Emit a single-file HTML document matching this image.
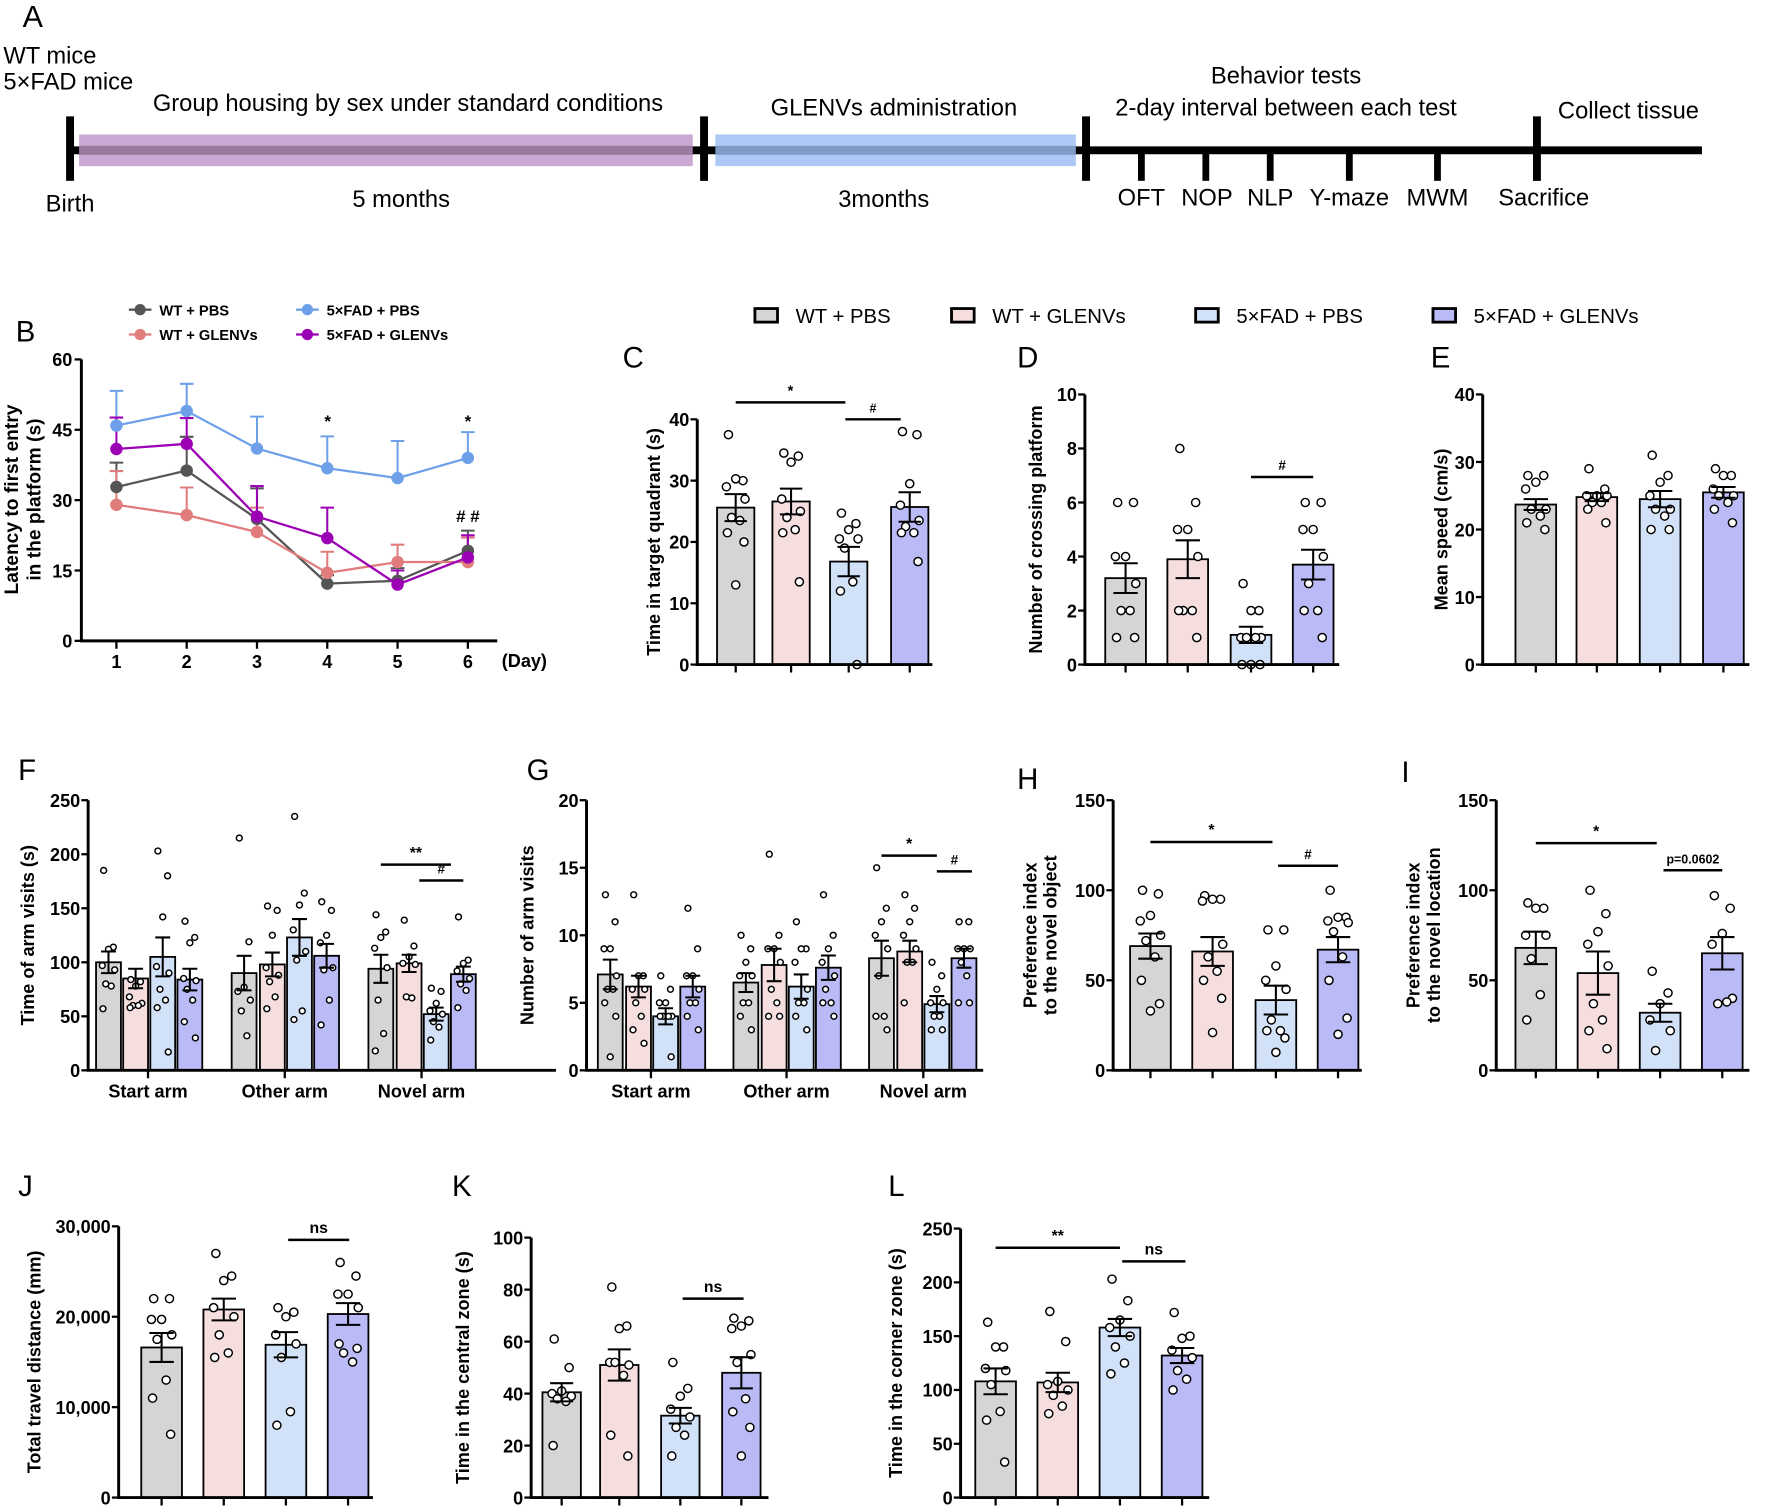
<!DOCTYPE html>
<html><head><meta charset="utf-8"><style>
html,body{margin:0;padding:0;background:#fff;}
svg{display:block;}
text{font-family:"Liberation Sans",Arial,sans-serif;}
.n{font-family:"Liberation Sans Narrow","Liberation Sans",sans-serif;}
</style></head><body>
<svg id="fig" width="1772" height="1510" viewBox="0 0 1568 1336" preserveAspectRatio="none" xmlns="http://www.w3.org/2000/svg"></svg>
<script>
// ---------- data ----------
const groups = ["WT + PBS","WT + GLENVs","5×FAD + PBS","5×FAD + GLENVs"];
const days = [1,2,3,4,5,6];
const bWtPbs = [32.8,36.3,26,12.2,12.8,19.2];
const bWtPbsErr = [38,43.5,32.5,14,15.5,23.5];
const bWtGl = [29,26.8,23.2,14.5,16.8,16.8];
const bWtGlErr = [36.2,32.7,28.4,19,20.5,22];
const bFadPbs = [45.9,49,41,36.8,34.7,39];
const bFadPbsErr = [53.3,54.8,47.8,43.6,42.6,44.5];
const bFadGl = [40.9,42,26.5,21.9,12,17.8];
const bFadGlErr = [47.6,47.5,33,28.4,15,22.5];
const bTicks = [0,15,30,45,60];

const cMeans = [25.6,26.6,16.8,25.7];
const cSems = [2.2,2.1,2.4,2.4];
const cPts = [[37.5,30,30.3,29,27,24,23.5,21.5,20,13],[34.5,34,33,27,25,24,22,21.5,13.5],[24.7,23,22,20.5,20.5,19,13.5,12,0],[38,37.5,29.5,26,23.5,22.5,21.5,21.5,16.8]];
const cTicks = [0,10,20,30,40];

const dMeans = [3.2,3.9,1.1,3.7];
const dSems = [0.55,0.7,0.3,0.55];
const dPts = [[6,6,4,4,3,2,2,1,1],[8,6,5,5,4,2,2,2,1],[3,2,2,1,1,1,1,0,0,0],[6,6,5,5,4,3,2,2,1]];
const dTicks = [0,2,4,6,8,10];

const eMeans = [23.7,24.8,24.5,25.5];
const eSems = [0.8,0.6,1.2,0.8];
const ePts = [[28,28,27,26,23,23,22,21,20],[29,26,25,25,25,24,24,23,21],[31,28,27,25,23,23,22,20,20],[29,28,28,26,25,25,24,23,21]];
const eTicks = [0,10,20,30,40];

const armCats = ["Start arm","Other arm","Novel arm"];
const fMeans = [100,85,105,84, 90,98,123,106, 94,99,52,89];
const fSems = [10,9,18,10, 16,11,17,11, 13,8,6,7];
const fPts = [[185,114,112,97,93,80,78,57],[84,82,78,68,62,60,60,58],[203,180,142,96,90,75,65,58,17],[138,123,118,85,83,75,65,45,30],
 [215,119,77,73,65,55,32],[152,148,125,95,88,82,68,57],[235,164,153,130,110,102,55,47],[156,148,125,118,95,93,65,42],
 [144,128,123,113,95,65,34,18],[139,115,105,99,98,68,67],[76,73,62,55,52,45,40,28],[142,102,99,92,85,80,74,58]];
const fTicks = [0,50,100,150,200,250];

const gMeans = [7.1,6.2,4,6.2, 6.5,7.8,6.2,7.6, 8.3,8.8,4.9,8.3];
const gSems = [1.1,0.8,0.6,0.8, 0.7,1.2,0.9,0.9, 1.3,0.8,0.6,0.7];
const gPts = [[13,11,9,9,7,6,6,5,4,1],[13,7,7,6,6,5,4,3,2],[7,6,5,5,4,4,4,4,1],[12,9,7,7,6,5,5,4,3],
 [10,9,8,7,7,5,5,4,3],[16,10,9,9,8,6,5,4,4],[11,9,9,8,6,5,5,4,3],[13,10,9,8,7,6,5,5,4],
 [15,12,11,10,9,7,4,4,3],[13,12,11,10,9,8,8,5],[8,7,6,5,5,4,4,3,3],[11,11,9,9,9,8,7,5,5]];
const gTicks = [0,5,10,15,20];

const hMeans = [69,66,39,67];
const hSems = [7,8,8,7];
const hPts = [[100,98,86,83,75,72,63,50,37,33],[97,95,95,94,70,63,55,50,40,21],[78,78,58,50,45,28,22,22,18,10],[100,85,85,83,82,77,63,50,29,20]];
const hTicks = [0,50,100,150];

const iMeans = [68,54,32,65];
const iSems = [9,12,5,9];
const iPts = [[93,90,90,75,75,62,42,28],[100,87,77,70,58,37,28,22,12],[55,43,37,28,22,11],[97,90,76,70,40,37,38]];
const iTicks = [0,50,100,150];

const jMeans = [16600,20800,16900,20300];
const jSems = [1600,1200,1400,1200];
const jPts = [[22000,22000,19700,19700,18000,17500,13000,11000,7000],[27000,24500,24000,21000,20000,18000,16000,15500],[21000,20500,20000,18000,17000,15500,9500,8000],[26000,24500,22500,22500,21000,16000,15000,17000,16500]];
const jTicks = [0,10000,20000,30000];

const kMeans = [40.5,51,31.5,48];
const kSems = [3.5,6,3,6];
const kPts = [[61,50,41,40,39,38,37,20],[81,66,65,52,51,52,47,24,16],[52,42,39,34,31,27,24,16],[69,68,66,65,55,52,38,33,27,16]];
const kTicks = [0,20,40,60,80,100];

const lMeans = [108,107,158,132];
const lSems = [12,9,8,7];
const lPts = [[163,140,140,120,118,105,80,72,33],[173,145,108,105,100,95,85,78],[203,183,165,158,150,140,125,115],[172,150,148,137,130,118,110,100]];
const lTicks = [0,50,100,150,200,250];

// ---------- helpers ----------
const NS = "http://www.w3.org/2000/svg";
const svg = document.getElementById('fig');
const barFill = ["#d5d5d5","#f6dede","#d0e1f8","#babaf6"];
function mk(tag, attrs, parent, txt){
  const e = document.createElementNS(NS, tag);
  for (const k in attrs) e.setAttribute(k, attrs[k]);
  if (txt !== undefined) e.textContent = txt;
  (parent || svg).appendChild(e);
  return e;
}
function label(x,y,t,name,size){
  const e = mk('text',{x:x,y:y,'font-size':size||26,fill:'#000'},svg,t);
  
  
}
function sig(x1,x2,y,t,name,size){
  const g = mk('g',{});
  
  
  mk('line',{x1:x1,x2:x2,y1:y,y2:y,stroke:'#000','stroke-width':2.2},g);
  mk('text',{x:(x1+x2)/2,y:y-6,'text-anchor':'middle','font-size':size||14,'font-weight':'bold'},g,t);
}
const jit = [-7,7,0,-9,9,-4,4,-8,8,0];

function barChart(c){
  const g = mk('g',{});
  
  
  const sy = v => c.y0 - v / c.max * (c.y0 - c.yTop);
  c.means.forEach((m,i)=>{
    const cx = c.centers[i], w = c.w;
    const r = mk('rect',{x:cx-w/2,y:sy(m),width:w,height:c.y0-sy(m),fill:barFill[i%4],stroke:'#000','stroke-width':1.6},g);
    
    
  });
  c.pts.forEach((arr,i)=>{
    arr.forEach((v,k)=>{
      const p = mk('circle',{cx:c.centers[i]+jit[k%10]*c.w/36,cy:sy(v),r:c.pr||3.6,fill:'#fff',stroke:'#000','stroke-width':1.3},g);
      
      
    });
  });
  c.means.forEach((m,i)=>{
    const cx = c.centers[i], s = c.sems[i], hw = c.w*0.3;
    const e = mk('path',{d:`M${cx} ${sy(m-s)}V${sy(m+s)}M${cx-hw} ${sy(m+s)}H${cx+hw}M${cx-hw} ${sy(m-s)}H${cx+hw}`,stroke:'#000','stroke-width':1.8,fill:'none'},g);
    
    
  });
  const ax = mk('path',{d:`M${c.ax} ${c.yTop}V${c.y0}H${c.xEnd}`,stroke:'#000','stroke-width':2.6,fill:'none'},g);
  
  
  c.ticks.forEach(t=>{
    mk('line',{x1:c.ax-6,x2:c.ax,y1:sy(t),y2:sy(t),stroke:'#000','stroke-width':2},g);
    const tl = mk('text',{x:c.ax-7,y:sy(t)+6,'text-anchor':'end','font-size':16,'font-weight':'bold',class:'n'},g,c.fmt?c.fmt(t):t);
    
    
  });
  (c.xticks||c.centers).forEach(x=>{
    mk('line',{x1:x,x2:x,y1:c.y0,y2:c.y0+7,stroke:'#000','stroke-width':2},g);
  });
  if (c.cats) c.cats.forEach((t,i)=>{
    const xl = mk('text',{x:c.catX[i],y:c.y0+24,'text-anchor':'middle','font-size':16,'font-weight':'bold'},g,t);
    
    
  });
  c.title.forEach((t,k)=>{
    const yt = mk('text',{transform:`translate(${c.titleX + k*18},${(c.y0+c.yTop)/2}) rotate(-90)`,'text-anchor':'middle','font-size':16,'font-weight':'bold'},g,t);
    
    
  });
  return sy;
}

// ---------- Panel A ----------
(function(){
  const g = mk('g',{});
  
  
  mk('rect',{x:70,y:119,width:543,height:28,fill:'#c9a9d4'},g);
  mk('rect',{x:633,y:119,width:319,height:28,fill:'#adc8f5'},g);
  mk('line',{x1:62,x2:1506,y1:133,y2:133,stroke:'#000','stroke-width':7},g);
  mk('rect',{x:70,y:129,width:543,height:8,fill:'#9a7a9f'},g);
  mk('rect',{x:633,y:129,width:319,height:8,fill:'#7f9cc6'},g);
  [62,623,961,1360].forEach(x=>mk('line',{x1:x,x2:x,y1:103,y2:160,stroke:'#000','stroke-width':7},g));
  [1010,1067,1124,1194,1272].forEach(x=>mk('line',{x1:x,x2:x,y1:133,y2:160,stroke:'#000','stroke-width':6},g));
  const T = (x,y,t,a)=>{const e=mk('text',{x:x,y:y,'font-size':21,class:'n','text-anchor':a||'start'},g,t);  };
  T(3,56,'WT mice'); T(3,79,'5×FAD mice');
  T(361,98,'Group housing by sex under standard conditions','middle');
  T(791,102,'GLENVs administration','middle');
  T(1138,74,'Behavior tests','middle');
  T(1138,102,'2-day interval between each test','middle');
  T(1441,105,'Collect tissue','middle');
  T(62,187,'Birth','middle'); T(355,183,'5 months','middle'); T(782,183,'3months','middle');
  T(1010,182,'OFT','middle'); T(1068,182,'NOP','middle'); T(1124,182,'NLP','middle'); T(1194,182,'Y-maze','middle'); T(1272,182,'MWM','middle'); T(1366,182,'Sacrifice','middle');
})();
label(20,24,'A','panel-label-a',27);

// ---------- Panel B ----------
(function(){
  const g = mk('g',{});
  
  
  const y0=567, yT=318, sy=v=>y0-v/60*(y0-yT), sx=d=>103+(d-1)*62.2;
  const series=[[bWtPbs,bWtPbsErr,'#555555'],[bWtGl,bWtGlErr,'#e07c7c'],[bFadPbs,bFadPbsErr,'#6ea0ea'],[bFadGl,bFadGlErr,'#9c00b4']];
  const names=['wt-pbs','wt-glenvs','5xfad-pbs','5xfad-glenvs'];
  series.forEach((s,si)=>{
    s[0].forEach((v,i)=>{
      const e=mk('path',{d:`M${sx(days[i])} ${sy(v)}V${sy(s[1][i])}M${sx(days[i])-6} ${sy(s[1][i])}H${sx(days[i])+6}`,stroke:s[2],'stroke-width':1.8,fill:'none'},g);
      
      
    });
  });
  series.forEach((s,si)=>{
    const l=mk('polyline',{points:s[0].map((v,i)=>sx(days[i])+','+sy(v)).join(' '),fill:'none',stroke:s[2],'stroke-width':2},g);
    
    
    s[0].forEach((v,i)=>{
      const p=mk('circle',{cx:sx(days[i]),cy:sy(v),r:5.5,fill:s[2]},g);
      
      
    });
  });
  mk('path',{d:`M72 ${yT}V${y0}H440`,stroke:'#000','stroke-width':2.6,fill:'none'},g);
  bTicks.forEach(t=>{mk('line',{x1:66,x2:72,y1:sy(t),y2:sy(t),stroke:'#000','stroke-width':2},g);
    const e=mk('text',{x:64,y:sy(t)+6,'text-anchor':'end','font-size':16,'font-weight':'bold'},g,t);  });
  days.forEach(d=>{mk('line',{x1:sx(d),x2:sx(d),y1:y0,y2:y0+7,stroke:'#000','stroke-width':2},g);
    const e=mk('text',{x:sx(d),y:y0+24,'text-anchor':'middle','font-size':16,'font-weight':'bold'},g,d);  });
  const dl=mk('text',{x:444,y:y0+23,'font-size':16,'font-weight':'bold'},g,'(Day)');  
  const t1=mk('text',{transform:'translate(16,442) rotate(-90)','text-anchor':'middle','font-size':17,'font-weight':'bold'},g,'Latency to first entry');  
  const t2=mk('text',{transform:'translate(36,442) rotate(-90)','text-anchor':'middle','font-size':17,'font-weight':'bold'},g,'in the platform (s)');  
  [[290,378,'*'],[414,378,'*'],[414,462,'# #']].forEach(a=>{const e=mk('text',{x:a[0],y:a[1],'text-anchor':'middle','font-size':15,'font-weight':'bold'},g,a[2]);  });
  const leg=[[124,274,'#555555','WT + PBS'],[124,296,'#e07c7c','WT + GLENVs'],[272,274,'#6ea0ea','5×FAD + PBS'],[272,296,'#9c00b4','5×FAD + GLENVs']];
  leg.forEach(a=>{const lg=mk('g',{},g);  
    mk('line',{x1:a[0]-10,x2:a[0]+10,y1:a[1],y2:a[1],stroke:a[2],'stroke-width':2},lg);
    mk('circle',{cx:a[0],cy:a[1],r:5,fill:a[2]},lg);
    mk('text',{x:a[0]+17,y:a[1]+5,'font-size':13,'font-weight':'bold'},lg,a[3]);});
})();
label(14,302,'B','panel-label-b',26);

// ---------- bar legend ----------
(function(){
  const xs=[668,842,1058,1268];
  xs.forEach((x,i)=>{const lg=mk('g',{});  
    mk('rect',{x:x,y:273,width:20,height:12,fill:barFill[i],stroke:'#000','stroke-width':2.5},lg);
    mk('text',{x:x+36,y:286,'font-size':18,class:'n'},lg,groups[i]);});
})();

// ---------- C, D, E ----------
label(551,325,'C','panel-label-c',26);
label(900,325,'D','panel-label-d',26);
label(1266,325,'E','panel-label-e',26);
barChart({name:'bar-chart-c',ax:617,y0:588,yTop:371,max:40,ticks:cTicks,centers:[651,700,751,805],w:33,xEnd:825,means:cMeans,sems:cSems,pts:cPts,title:['Time in target quadrant (s)'],titleX:584});
sig(651,748,356,'*','sig-c-1',13); sig(748,797,371,'#','sig-c-2',11);
barChart({name:'bar-chart-d',ax:960,y0:588,yTop:349,max:10,ticks:dTicks,centers:[996,1051,1107,1162],w:36,xEnd:1185,means:dMeans,sems:dSems,pts:dPts,title:['Number of crossing platform'],titleX:922});
sig(1107,1162,422,'#','sig-d',12);
barChart({name:'bar-chart-e',ax:1312,y0:588,yTop:349,max:40,ticks:eTicks,centers:[1359,1413,1469,1525],w:36,xEnd:1548,means:eMeans,sems:eSems,pts:ePts,title:['Mean speed (cm/s)'],titleX:1281});

// ---------- F, G ----------
label(16,690,'F','panel-label-f',26);
label(466,690,'G','panel-label-g',26);
barChart({name:'bar-chart-f',ax:78,y0:947,yTop:708,max:250,ticks:fTicks,centers:[96,120,144,168,216,241,265,289,337,362,386,410],w:22,pr:2.6,xEnd:492,xticks:[131,252,373],cats:armCats,catX:[131,252,373],means:fMeans,sems:fSems,pts:fPts,title:['Time of arm visits (s)'],titleX:30});
sig(337,399,765,'**','sig-f-1',14); sig(371,410,779,'#','sig-f-2',12);
barChart({name:'bar-chart-g',ax:519,y0:947,yTop:708,max:20,ticks:gTicks,centers:[540,565,589,613,660,685,709,733,780,805,829,853],w:22,pr:2.6,xEnd:870,xticks:[576,696,817],cats:armCats,catX:[576,696,817],means:gMeans,sems:gSems,pts:gPts,title:['Number of arm visits'],titleX:472});
sig(780,829,757,'*','sig-g-1',14); sig(829,860,771,'#','sig-g-2',12);

// ---------- H, I ----------
label(900,698,'H','panel-label-h',26);
label(1240,692,'I','panel-label-i',26);
barChart({name:'bar-chart-h',ax:985,y0:947,yTop:708,max:150,ticks:hTicks,centers:[1018,1073,1129,1184],w:36,xEnd:1205,means:hMeans,sems:hSems,pts:hPts,title:['Preference index','to the novel object'],titleX:917});
sig(1018,1126,745,'*','sig-h-1',14); sig(1131,1184,766,'#','sig-h-2',12);
barChart({name:'bar-chart-i',ax:1324,y0:947,yTop:708,max:150,ticks:iTicks,centers:[1359,1414,1469,1524],w:36,xEnd:1548,means:iMeans,sems:iSems,pts:iPts,title:['Preference index','to the novel location'],titleX:1256});
sig(1359,1466,746,'*','sig-i-1',14); sig(1472,1524,770,'p=0.0602','sig-i-2',11);

// ---------- J, K, L ----------
label(16,1058,'J','panel-label-j',26);
label(400,1058,'K','panel-label-k',26);
label(786,1058,'L','panel-label-l',26);
barChart({name:'bar-chart-j',ax:105,y0:1325,yTop:1085,max:30000,ticks:jTicks,fmt:t=>t.toLocaleString('en-US'),centers:[143,198,253,308],w:36,xEnd:330,means:jMeans,sems:jSems,pts:jPts,title:['Total travel distance (mm)'],titleX:36});
sig(255,309,1097,'ns','sig-j',14);
barChart({name:'bar-chart-k',ax:470,y0:1325,yTop:1095,max:100,ticks:kTicks,centers:[497,548,602,656],w:34,xEnd:680,means:kMeans,sems:kSems,pts:kPts,title:['Time in the central zone (s)'],titleX:415});
sig(604,658,1149,'ns','sig-k',14);
barChart({name:'bar-chart-l',ax:850,y0:1325,yTop:1087,max:250,ticks:lTicks,centers:[881,936,991,1046],w:36,xEnd:1070,means:lMeans,sems:lSems,pts:lPts,title:['Time in the corner zone (s)'],titleX:798});
sig(881,991,1104,'**','sig-l-1',14); sig(993,1049,1116,'ns','sig-l-2',14);
</script>
</body></html>
